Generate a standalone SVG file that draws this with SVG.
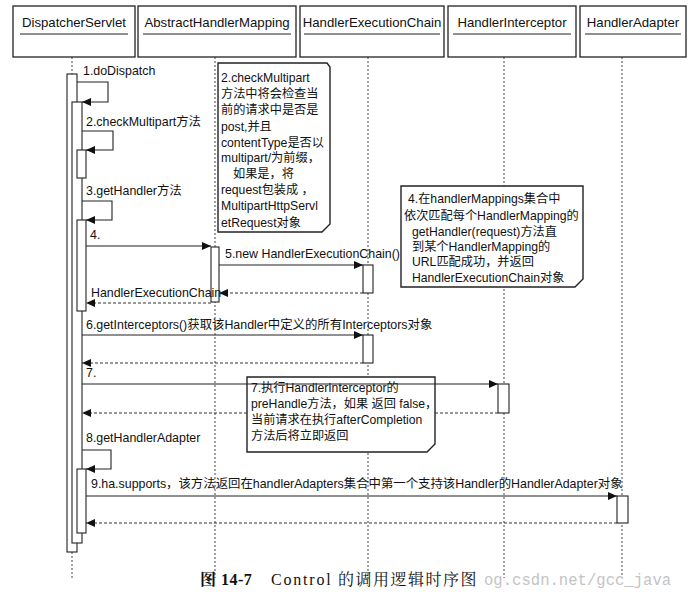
<svg xmlns="http://www.w3.org/2000/svg" width="689" height="601" viewBox="0 0 689 601">
<style>
.hdr{fill:#fff;stroke:#222;stroke-width:1.3}
.ht{font-family:"Liberation Sans","Noto Sans CJK SC",sans-serif;font-size:13.2px;fill:#111;text-anchor:middle}
.ul{stroke:#222;stroke-width:1}
.life{stroke:#444;stroke-width:1;stroke-dasharray:2,2;fill:none}
.bar{fill:#fff;stroke:#222;stroke-width:1.1}
.msg{stroke:#222;stroke-width:1.1;fill:none;marker-end:url(#arr)}
.ret{stroke:#333;stroke-width:1.1;fill:none;stroke-dasharray:3,2;marker-end:url(#arr)}
.lbl{font-family:"Liberation Sans","Noto Sans CJK SC",sans-serif;font-size:12.4px;fill:#111}
.note{fill:#fff;stroke:#222;stroke-width:1.4}
.nt{font-family:"Liberation Sans","Noto Sans CJK SC",sans-serif;font-size:12.2px;fill:#111}
.cap{font-family:"Liberation Serif","Noto Serif CJK SC","Noto Sans CJK SC",serif;font-size:16px;fill:#111}
.wm{font-family:"Liberation Mono",monospace;font-size:15.6px;fill:#c4c4c4}
</style>
<defs>
<marker id="arr" markerWidth="9" markerHeight="8" refX="9" refY="4" orient="auto" markerUnits="userSpaceOnUse">
<path d="M0,0 L9,4 L0,8 z" fill="#111"/>
</marker>
</defs>
<rect width="689" height="601" fill="#fff"/>

<g id="lifelines">
<path class="life" d="M72,57 V74 M72,552 V578"/>
<path class="life" d="M215,57 V578"/>
<path class="life" d="M368,57 V578"/>
<path class="life" d="M504,57 V578"/>
<path class="life" d="M622,57 V578"/>
</g>

<g id="DispatcherServlet">
<rect class="hdr" x="13" y="6" width="122" height="51"/>
<text class="ht" x="74" y="27">DispatcherServlet</text>
<line class="ul" x1="20" y1="34" x2="128" y2="34"/>
<rect class="bar" x="67" y="74" width="10" height="478"/>
<rect class="bar" x="72" y="102" width="10" height="441"/>
<rect class="bar" x="77" y="150" width="9" height="28"/>
<rect class="bar" x="77" y="220" width="9" height="91"/>
<rect class="bar" x="77" y="469" width="9" height="64"/>
</g>

<g id="AbstractHandlerMapping">
<rect class="hdr" x="138" y="6" width="158" height="51"/>
<text class="ht" x="217" y="27">AbstractHandlerMapping</text>
<line class="ul" x1="143" y1="34" x2="291" y2="34"/>
<rect class="bar" x="211" y="247" width="8" height="55"/>
</g>

<g id="HandlerExecutionChain">
<rect class="hdr" x="300" y="6" width="144" height="51"/>
<text class="ht" x="372" y="27">HandlerExecutionChain</text>
<line class="ul" x1="304" y1="34" x2="440" y2="34"/>
<rect class="bar" x="363" y="265" width="10" height="28"/>
<rect class="bar" x="363" y="335" width="10" height="28"/>
</g>

<g id="HandlerInterceptor">
<rect class="hdr" x="448" y="6" width="128" height="51"/>
<text class="ht" x="512" y="27">HandlerInterceptor</text>
<line class="ul" x1="453" y1="34" x2="571" y2="34"/>
<rect class="bar" x="498" y="384" width="11" height="29"/>
</g>

<g id="HandlerAdapter">
<rect class="hdr" x="580" y="6" width="106" height="51"/>
<text class="ht" x="633" y="27">HandlerAdapter</text>
<line class="ul" x1="585" y1="34" x2="681" y2="34"/>
<rect class="bar" x="617" y="496" width="11" height="27"/>
</g>

<g id="note-checkMultipart">
<path class="note" d="M218,63 H327 L330,67 V224 L322,232 H218 Z"/>
<text class="nt" x="221" y="82">2.checkMultipart</text>
<text class="nt" x="221" y="98">方法中将会检查当</text>
<text class="nt" x="221" y="114">前的请求中是否是</text>
<text class="nt" x="221" y="131">post,并且</text>
<text class="nt" x="221" y="147">contentType是否以</text>
<text class="nt" x="221" y="162">multipart/为前缀，</text>
<text class="nt" x="233" y="178">如果是，将</text>
<text class="nt" x="221" y="194">request包装成 ，</text>
<text class="nt" x="221" y="210">MultipartHttpServl</text>
<text class="nt" x="221" y="227">etRequest对象</text>
</g>

<g id="note-getHandler">
<path class="note" d="M401,186 H583 V279 L575,287 H401 Z"/>
<text class="nt" x="408" y="203">4.在handlerMappings集合中</text>
<text class="nt" x="404" y="220">依次匹配每个HandlerMapping的</text>
<text class="nt" x="412" y="236">getHandler(request)方法直</text>
<text class="nt" x="412" y="251">到某个HandlerMapping的</text>
<text class="nt" x="412" y="266">URL匹配成功，并返回</text>
<text class="nt" x="412" y="282">HandlerExecutionChain对象</text>
</g>

<g id="note-preHandle">
<path class="note" d="M247,377 H435 V444 L427,452 H247 Z"/>
<text class="nt" x="251" y="392">7.执行HandlerInterceptor的</text>
<text class="nt" x="251" y="408">preHandle方法，如果 返回 false，</text>
<text class="nt" x="251" y="424">当前请求在执行afterCompletion</text>
<text class="nt" x="251" y="440">方法后将立即返回</text>
</g>

<g id="connectors">
<path class="msg" d="M77,82 H108 V102 H82"/>
<path class="msg" d="M82,131 H113 V150 H86"/>
<path class="msg" d="M82,201 H112 V220 H86"/>
<path class="msg" d="M86,246 H211"/>
<path class="msg" d="M219,265 H363"/>
<path class="ret" d="M363,293 H219"/>
<path class="ret" d="M211,303 H86"/>
<path class="msg" d="M82,335 H363"/>
<path class="ret" d="M363,363 H82"/>
<path class="msg" d="M82,384 H498"/>
<path class="ret" d="M498,413 H435 M247,413 H82"/>
<path class="msg" d="M82,450 H111 V469 H86"/>
<path class="msg" d="M86,496 H617"/>
<path class="ret" d="M617,523 H86"/>
</g>

<g id="labels">
<text class="lbl" x="83" y="75">1.doDispatch</text>
<text class="lbl" x="86" y="126">2.checkMultipart方法</text>
<text class="lbl" x="86" y="195">3.getHandler方法</text>
<text class="lbl" x="90" y="239">4.</text>
<text class="lbl" x="225" y="258">5.new HandlerExecutionChain()</text>
<text class="lbl" x="91" y="297">HandlerExecutionChain</text>
<text class="lbl" x="86" y="329">6.getInterceptors()获取该Handler中定义的所有Interceptors对象</text>
<text class="lbl" x="86" y="377">7.</text>
<text class="lbl" x="86" y="442">8.getHandlerAdapter</text>
<text class="lbl" x="91" y="488">9.ha.supports，该方法返回在handlerAdapters集合中第一个支持该Handler的HandlerAdapter对象</text>
</g>

<text class="cap" x="200" y="585"><tspan font-weight="bold" letter-spacing="0.5">图 14-7</tspan><tspan x="271" letter-spacing="1.8">Control</tspan><tspan x="338" letter-spacing="1.5">的调用逻辑时序图</tspan></text>
<text class="wm" x="484" y="585">og.csdn.net/gcc_java</text>
</svg>
